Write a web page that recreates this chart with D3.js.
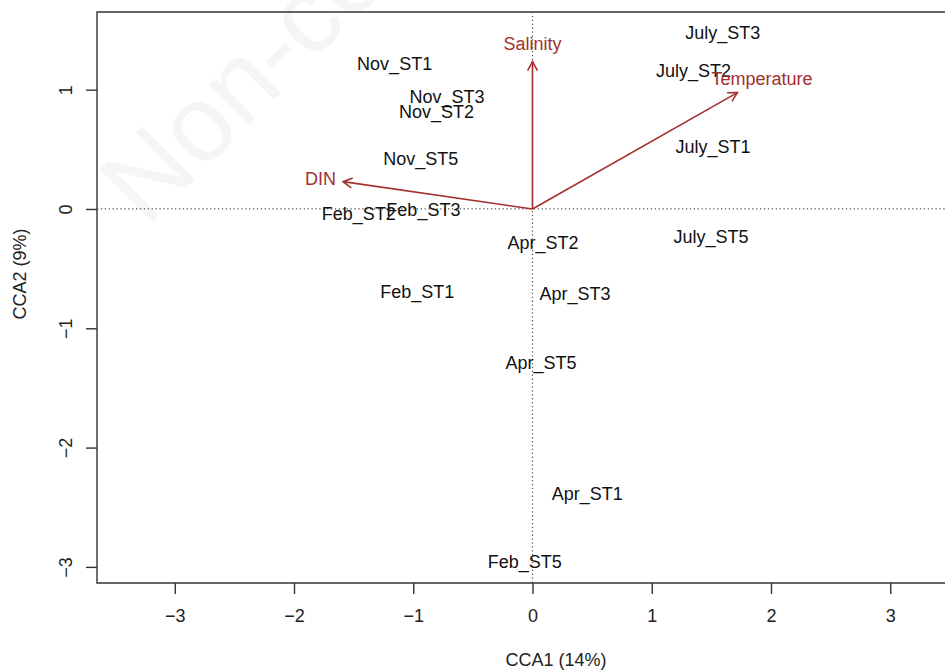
<!DOCTYPE html>
<html>
<head>
<meta charset="utf-8">
<script src="https://cdn.jsdelivr.net/npm/d3@7"></script>
<style>
  body { margin: 0; background: #fff; }
  svg { display: block; font-family: "Liberation Sans", Arial, sans-serif; }
</style>
</head>
<body>
<div id="chart"></div>
<script>
// site scores (CCA1, CCA2)
var sites = ["Nov_ST1", "Nov_ST3", "Nov_ST2", "Nov_ST5", "Feb_ST2", "Feb_ST3", "Feb_ST1", "Feb_ST5",
             "July_ST3", "July_ST2", "July_ST1", "July_ST5", "Apr_ST2", "Apr_ST3", "Apr_ST5", "Apr_ST1"];
var siteX = [-1.156, -0.717, -0.805, -0.936, -1.456, -0.915, -0.967, -0.065,
             1.595, 1.35, 1.514, 1.497, 0.089, 0.357, 0.072, 0.459];
var siteY = [1.215, 0.941, 0.816, 0.425, -0.042, -0.003, -0.693, -2.956,
             1.481, 1.157, 0.522, -0.232, -0.279, -0.707, -1.285, -2.389];

// environmental vectors
var envNames = ["Salinity", "Temperature", "DIN"];
var envX = [0, 1.718, -1.588];
var envY = [1.235, 0.975, 0.229];

var ticks = [-3, -2, -1, 0, 1, 2, 3];

var width = 945, height = 670;
var pL = 97, pR = 968, pT = 12, pB = 583;
var red = "#a3302e", axisCol = "#333";

var svg = d3.select("#chart").append("svg").attr("width", width).attr("height", height);

// faint watermark
svg.append("text").attr("transform", "translate(146,228) rotate(-45)")
  .style("font-size", "108px").style("fill", "#f5f5f5").text("Non-commercial use only");

var x = d3.scaleLinear().domain([-3.652, 3.652]).range([pL, pR]);
var y = d3.scaleLinear().domain([-3.135, 1.651]).range([pB, pT]);

// box (right side runs off the page)
svg.append("path").attr("d", "M" + pR + "," + pT + "H" + pL + "V" + pB + "H" + pR)
  .attr("fill", "none").attr("stroke", axisCol).attr("stroke-width", 1.4);

// dotted zero lines
svg.append("line").attr("x1", pL).attr("x2", pR).attr("y1", y(0)).attr("y2", y(0))
  .attr("stroke", "#555").attr("stroke-width", 1.2).attr("stroke-dasharray", "1.3,2.6");
svg.append("line").attr("x1", x(0)).attr("x2", x(0)).attr("y1", pT).attr("y2", pB)
  .attr("stroke", "#555").attr("stroke-width", 1.2).attr("stroke-dasharray", "1.3,2.6");

// axes
var fmt = d3.format("d");
var gx = svg.append("g").attr("transform", "translate(0," + pB + ")")
  .call(d3.axisBottom(x).tickValues(ticks).tickFormat(fmt).tickSize(11).tickPadding(15));
var gy = svg.append("g").attr("transform", "translate(" + pL + ",0)")
  .call(d3.axisLeft(y).tickValues(ticks).tickFormat(fmt).tickSize(11).tickPadding(6));
[gx, gy].forEach(function(g) {
  g.select(".domain").remove();
  g.selectAll(".tick line").attr("stroke", axisCol).attr("stroke-width", 1.4);
  g.selectAll(".tick text").style("font-size", "18px").style("fill", "#222").style("font-family", "Liberation Sans, Arial, sans-serif");
});
gy.selectAll(".tick text").attr("x", null).attr("dy", null)
  .attr("transform", "translate(-31,0) rotate(-90)").attr("text-anchor", "middle").attr("dy", "0.35em");

// axis titles
svg.append("text").attr("x", 556).attr("y", 666).attr("text-anchor", "middle")
  .style("font-size", "18px").style("fill", "#222").text("CCA1 (14%)");
svg.append("text").attr("transform", "translate(26,274) rotate(-90)").attr("text-anchor", "middle")
  .style("font-size", "18px").style("fill", "#222").text("CCA2 (9%)");

// site labels
svg.selectAll(".site").data(sites).enter().append("text").attr("class", "site")
  .attr("x", function(d, i) { return x(siteX[i]); })
  .attr("y", function(d, i) { return y(siteY[i]); })
  .attr("dy", "0.36em").attr("text-anchor", "middle")
  .style("font-size", "18px").style("fill", "#111")
  .text(function(d) { return d; });

// arrows
svg.append("defs").append("marker").attr("id", "head")
  .attr("viewBox", "-10 -6 12 12").attr("refX", 0).attr("refY", 0)
  .attr("markerWidth", 12).attr("markerHeight", 12).attr("markerUnits", "userSpaceOnUse")
  .attr("orient", "auto")
  .append("path").attr("d", "M-9,-5L0,0L-9,5").attr("fill", "none").attr("stroke", red).attr("stroke-width", 1.6);

svg.selectAll(".env").data(envNames).enter().append("line").attr("class", "env")
  .attr("x1", x(0)).attr("y1", y(0))
  .attr("x2", function(d, i) { return x(envX[i]); })
  .attr("y2", function(d, i) { return y(envY[i]); })
  .attr("stroke", red).attr("stroke-width", 1.6).attr("marker-end", "url(#head)");

svg.selectAll(".envlab").data(envNames).enter().append("text").attr("class", "envlab")
  .attr("x", function(d, i) { return x(envX[i] * 1.12); })
  .attr("y", function(d, i) { return y(envY[i] * 1.12); })
  .attr("dy", "0.36em").attr("text-anchor", "middle")
  .style("font-size", "18px").style("fill", red)
  .text(function(d) { return d; });
</script>
</body>
</html>
